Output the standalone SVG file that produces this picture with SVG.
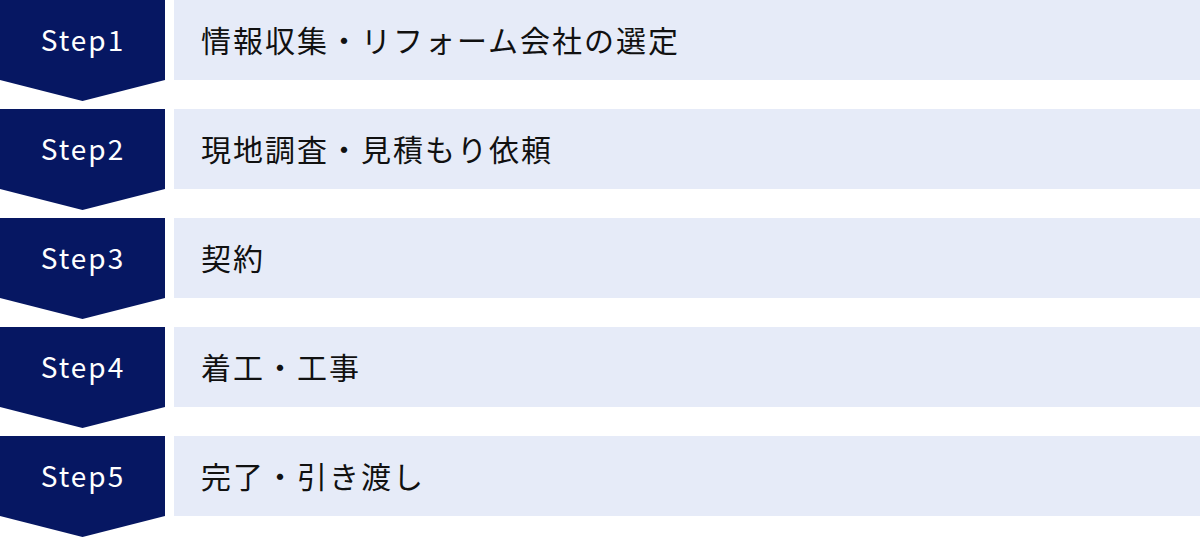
<svg xmlns="http://www.w3.org/2000/svg" width="1200" height="538" viewBox="0 0 1200 538">
<style>
.arrow{fill:#061762}
.box{fill:#E6EBF8}
.lbl{font-family:"Noto Sans CJK JP","Noto Sans",sans-serif;font-size:28px;fill:#ffffff;text-anchor:middle;letter-spacing:2px}
.txt{font-family:"Noto Sans CJK JP","Noto Sans",sans-serif;font-size:30px;fill:#111111;letter-spacing:2px}
</style>
<rect width="1200" height="538" fill="#ffffff"/>
<g id="connectors"></g>
<g id="step1" transform="translate(0,0)">
<polygon class="arrow" points="0,0 165,0 165,80 82.5,101 0,80"/>
<rect class="box" x="174" y="0" width="1026" height="80"/>
<text class="lbl" x="83" y="51">Step1</text>
<text class="txt" x="201" y="52">情報収集・リフォーム会社の選定</text>
</g>
<g id="step2" transform="translate(0,109)">
<polygon class="arrow" points="0,0 165,0 165,80 82.5,101 0,80"/>
<rect class="box" x="174" y="0" width="1026" height="80"/>
<text class="lbl" x="83" y="51">Step2</text>
<text class="txt" x="201" y="52">現地調査・見積もり依頼</text>
</g>
<g id="step3" transform="translate(0,218)">
<polygon class="arrow" points="0,0 165,0 165,80 82.5,101 0,80"/>
<rect class="box" x="174" y="0" width="1026" height="80"/>
<text class="lbl" x="83" y="51">Step3</text>
<text class="txt" x="201" y="52">契約</text>
</g>
<g id="step4" transform="translate(0,327)">
<polygon class="arrow" points="0,0 165,0 165,80 82.5,101 0,80"/>
<rect class="box" x="174" y="0" width="1026" height="80"/>
<text class="lbl" x="83" y="51">Step4</text>
<text class="txt" x="201" y="52">着工・工事</text>
</g>
<g id="step5" transform="translate(0,436)">
<polygon class="arrow" points="0,0 165,0 165,80 82.5,101 0,80"/>
<rect class="box" x="174" y="0" width="1026" height="80"/>
<text class="lbl" x="83" y="51">Step5</text>
<text class="txt" x="201" y="52">完了・引き渡し</text>
</g>
</svg>
